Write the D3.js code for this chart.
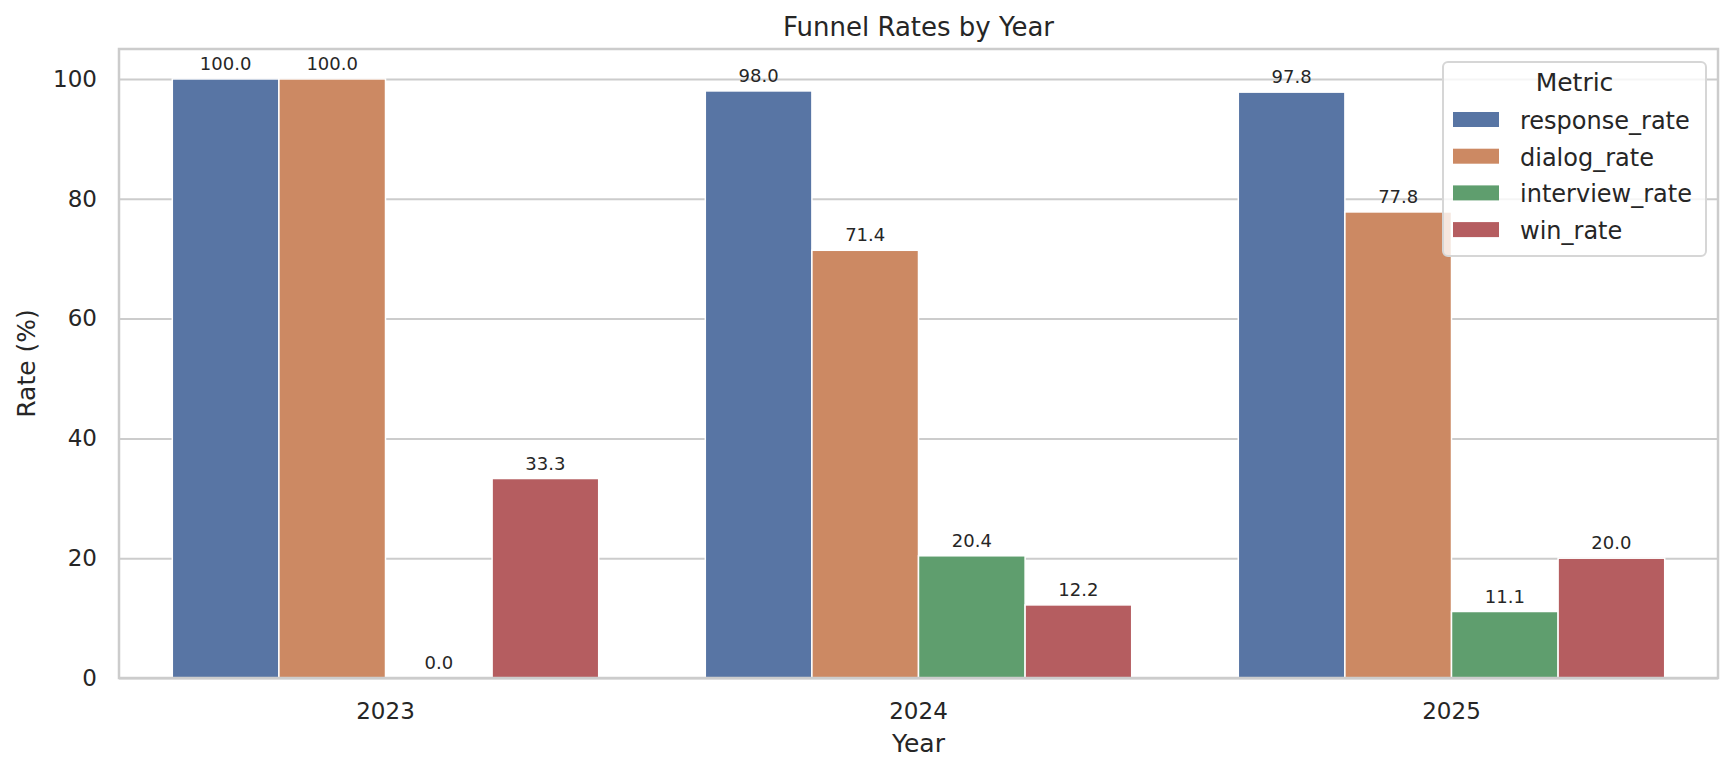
<!DOCTYPE html>
<html>
<head>
<meta charset="utf-8">
<script src="https://cdn.jsdelivr.net/npm/d3@7"></script>
<style>
  body { margin: 0; background: #fff; }
  svg { display: block; font-family: "DejaVu Sans", sans-serif; }
</style>
</head>
<body>
<svg id="chart"></svg>
<script>
const years = ['2023', '2024', '2025'];
const metrics = ['response_rate', 'dialog_rate', 'interview_rate', 'win_rate'];
const responseRate = [100.0, 98.0, 97.8];
const dialogRate = [100.0, 71.4, 77.8];
const interviewRate = [0.0, 20.4, 11.1];
const winRate = [33.3, 12.2, 20.0];
const yTicks = [0, 20, 40, 60, 80, 100];

const colors = ['#5875a4', '#cc8963', '#5f9e6e', '#b55d60'];
const seriesValues = [responseRate, dialogRate, interviewRate, winRate];

const rows = [];
years.forEach((yr, i) => {
  metrics.forEach((m, j) => rows.push({ year: yr, metric: m, value: seriesValues[j][i] }));
});

const width = 1734;
const height = 774;
const margin = { top: 49, right: 16, bottom: 96, left: 119 }; // plot frame

const svg = d3.select('#chart')
  .attr('width', width)
  .attr('height', height);

const x = d3.scaleBand()
  .domain(years)
  .range([margin.left, width - margin.right])
  .paddingInner(0)
  .paddingOuter(0);

const xInner = d3.scaleBand()
  .domain(metrics)
  .range([x.bandwidth() * 0.1, x.bandwidth() * 0.9]);

const y = d3.scaleLinear()
  .domain([0, 105])
  .range([height - margin.bottom, margin.top]);

// grid
const grid = svg.append('g')
  .attr('transform', `translate(${margin.left},0)`)
  .call(d3.axisLeft(y).tickValues(yTicks).tickSize(-(width - margin.left - margin.right)).tickFormat(''));
grid.select('.domain').remove();
grid.selectAll('line').attr('stroke', '#cccccc').attr('stroke-width', 2);

// y tick labels
const yAxis = svg.append('g')
  .attr('transform', `translate(${margin.left},0)`)
  .call(d3.axisLeft(y).tickValues(yTicks).tickSize(0).tickPadding(22));
yAxis.select('.domain').remove();
yAxis.selectAll('text')
  .attr('font-size', '23px')
  .attr('font-family', 'DejaVu Sans')
  .attr('fill', '#262626');

// x tick labels
const xAxis = svg.append('g')
  .attr('transform', `translate(0,${height - margin.bottom})`)
  .call(d3.axisBottom(x).tickSize(0).tickPadding(25));
xAxis.select('.domain').remove();
xAxis.selectAll('text')
  .attr('font-size', '23px')
  .attr('font-family', 'DejaVu Sans')
  .attr('fill', '#262626');

// bars
const groups = svg.append('g')
  .selectAll('g')
  .data(years)
  .join('g')
  .attr('transform', d => `translate(${x(d)},0)`);

groups.selectAll('rect')
  .data(yr => rows.filter(r => r.year === yr))
  .join('rect')
  .attr('x', d => xInner(d.metric))
  .attr('y', d => y(d.value))
  .attr('width', xInner.bandwidth())
  .attr('height', d => y(0) - y(d.value))
  .attr('fill', d => colors[metrics.indexOf(d.metric)])
  .attr('stroke', '#ffffff')
  .attr('stroke-width', 1.5);

groups.selectAll('text')
  .data(yr => rows.filter(r => r.year === yr))
  .join('text')
  .attr('x', d => xInner(d.metric) + xInner.bandwidth() / 2)
  .attr('y', d => y(d.value) - 9)
  .attr('text-anchor', 'middle')
  .attr('font-size', '18px')
  .attr('fill', '#262626')
  .text(d => d.value.toFixed(1));

// frame
svg.append('rect')
  .attr('x', margin.left)
  .attr('y', margin.top)
  .attr('width', width - margin.left - margin.right)
  .attr('height', height - margin.top - margin.bottom)
  .attr('fill', 'none')
  .attr('stroke', '#cccccc')
  .attr('stroke-width', 2.5);

// title and axis labels
svg.append('text')
  .attr('x', (margin.left + width - margin.right) / 2)
  .attr('y', 36)
  .attr('text-anchor', 'middle')
  .attr('font-size', '26px')
  .attr('fill', '#262626')
  .text('Funnel Rates by Year');

svg.append('text')
  .attr('x', (margin.left + width - margin.right) / 2)
  .attr('y', 752)
  .attr('text-anchor', 'middle')
  .attr('font-size', '25px')
  .attr('fill', '#262626')
  .text('Year');

svg.append('text')
  .attr('transform', `translate(35,${(margin.top + height - margin.bottom) / 2}) rotate(-90)`)
  .attr('text-anchor', 'middle')
  .attr('font-size', '25px')
  .attr('fill', '#262626')
  .text('Rate (%)');

// legend
const legend = svg.append('g');
legend.append('rect')
  .attr('x', 1443)
  .attr('y', 62)
  .attr('width', 263)
  .attr('height', 194)
  .attr('rx', 5)
  .attr('fill', 'rgba(255,255,255,0.8)')
  .attr('stroke', '#d6d6d6')
  .attr('stroke-width', 2);

legend.append('text')
  .attr('x', 1574.5)
  .attr('y', 91)
  .attr('text-anchor', 'middle')
  .attr('font-size', '25px')
  .attr('fill', '#262626')
  .text('Metric');

const items = legend.selectAll('g.item')
  .data(metrics)
  .join('g')
  .attr('class', 'item')
  .attr('transform', (d, i) => `translate(0,${129 + i * 36.7})`);

items.append('rect')
  .attr('x', 1453)
  .attr('y', -17)
  .attr('width', 46)
  .attr('height', 15)
  .attr('fill', (d, i) => colors[i]);

items.append('text')
  .attr('x', 1520)
  .attr('y', 0)
  .attr('font-size', '24px')
  .attr('fill', '#262626')
  .text(d => d);
</script>
</body>
</html>
